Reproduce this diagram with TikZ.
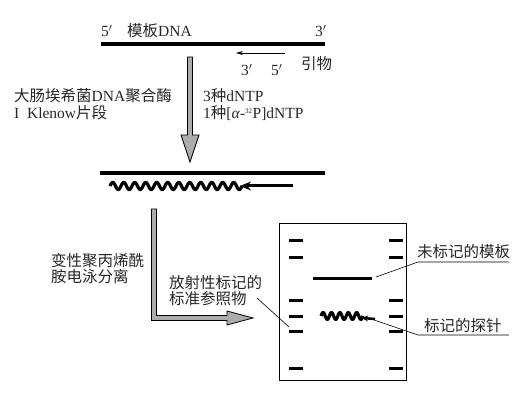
\documentclass[tikz,border=0pt]{standalone}
\usepackage{fontspec}
\setmainfont{Liberation Serif}
\newfontfamily\cjk{Noto Sans CJK SC}
\usetikzlibrary{arrows.meta}
\begin{document}
\begin{tikzpicture}[x=1pt,y=-1pt,
  lbl/.style={inner sep=0pt,anchor=west,text=black!85,font=\fontsize{15.5}{18}\selectfont},
  strand/.style={line width=4pt},
  band/.style={line width=3pt},
  thin/.style={line width=0.6pt},
  grayarrow/.style={fill=gray!65,draw=black,line width=0.8pt,line join=miter},
  wave/.style={line width=3.2pt,line join=round}]
\useasboundingbox (0,0) rectangle (520,409);
% template DNA
\coordinate (t1) at (101,44); \coordinate (t2) at (325,44);
\draw[strand] (t1) -- (t2);
\node[lbl] (p5a) at (101,31) {5$'$};
\node[lbl] (tmpl) at (127,31) {{\cjk 模板}DNA};
\node[lbl] (p3a) at (315,31) {3$'$};
% primer
\coordinate (pr1) at (285,53); \coordinate (pr2) at (236,53);
\draw[thin,-{Stealth[length=7pt,width=4pt]}] (pr1) -- (pr2);
\node[lbl] (p3b) at (241,70) {3$'$};
\node[lbl] (p5b) at (271,70) {5$'$};
\node[lbl] (primer) at (301,64) {\cjk 引物};
% vertical gray arrow
\draw[grayarrow] (187.5,57) -- (192.5,57) -- (192.5,135) -- (199,135) -- (190,162) -- (181,135) -- (187.5,135) -- cycle;
\node[lbl] (enz1) at (14,96) {{\cjk 大肠埃希菌}DNA{\cjk 聚合酶}};
\node[lbl] (enz2) at (14,113) {I\ \ Klenow{\cjk 片段}};
\node[lbl] (dntp1) at (203,96) {3{\cjk 种}dNTP};
\node[lbl] (dntp2) at (203,113) {1{\cjk 种}[\textit{α}-\textsuperscript{\scriptsize 32}P]dNTP};
% product
\coordinate (d1) at (100,173); \coordinate (d2) at (325,173);
\draw[strand] (d1) -- (d2);
\draw[wave] plot[domain=0:132,samples=240,smooth] ({110+\x},{186-3.6*sin(\x*32.727)});
\coordinate (pa1) at (293,186); \coordinate (pa2) at (240,186);
\draw[line width=3pt,-{Stealth[length=11pt,width=9pt]}] (pa1) -- (pa2);
% L-shaped gray arrow
\draw[grayarrow] (151.5,209) -- (156.5,209) -- (156.5,315.5) -- (227,315.5) -- (227,311) -- (253,318) -- (227,325) -- (227,320.5) -- (151.5,320.5) -- cycle;
\node[lbl] (sep1) at (51,261) {\cjk 变性聚丙烯酰};
\node[lbl] (sep2) at (51,277) {\cjk 胺电泳分离};
\node[lbl] (std1) at (169,283) {\cjk 放射性标记的};
\node[lbl] (std2) at (169,299) {\cjk 标准参照物};
% gel
\draw[line width=1pt] (279,224) rectangle (406,380);
\foreach \y in {241,258,300,316,331,368}{
  \draw[band] (289,\y) -- (303,\y);
  \draw[band] (389,\y) -- (403,\y);
}
\coordinate (tb1) at (313,278); \coordinate (tb2) at (372,278);
\draw[band] (tb1) -- (tb2);
\draw[wave] plot[domain=0:42,samples=120,smooth] ({321+\x},{316-3.4*sin(\x*42.857)});
\coordinate (pb1) at (375,319); \coordinate (pb2) at (362,318);
\draw[line width=2.5pt,-{Stealth[length=6pt,width=6pt]}] (pb1) -- (pb2);
% leaders
\coordinate (lstd) at (257,298); \coordinate (lband) at (289,327);
\draw[thin] (lstd) -- (lband);
\coordinate (lt1) at (376,277); \coordinate (lt2) at (418,262); \coordinate (lt3) at (509,262);
\draw[thin] (lt1) -- (lt2) -- (lt3);
\node[lbl] (untm) at (417,252) {\cjk 未标记的模板};
\coordinate (lp1) at (374,320); \coordinate (lp2) at (418,335); \coordinate (lp3) at (509,335);
\draw[thin] (lp1) -- (lp2) -- (lp3);
\node[lbl] (probe) at (424,326) {\cjk 标记的探针};
\end{tikzpicture}
\end{document}
